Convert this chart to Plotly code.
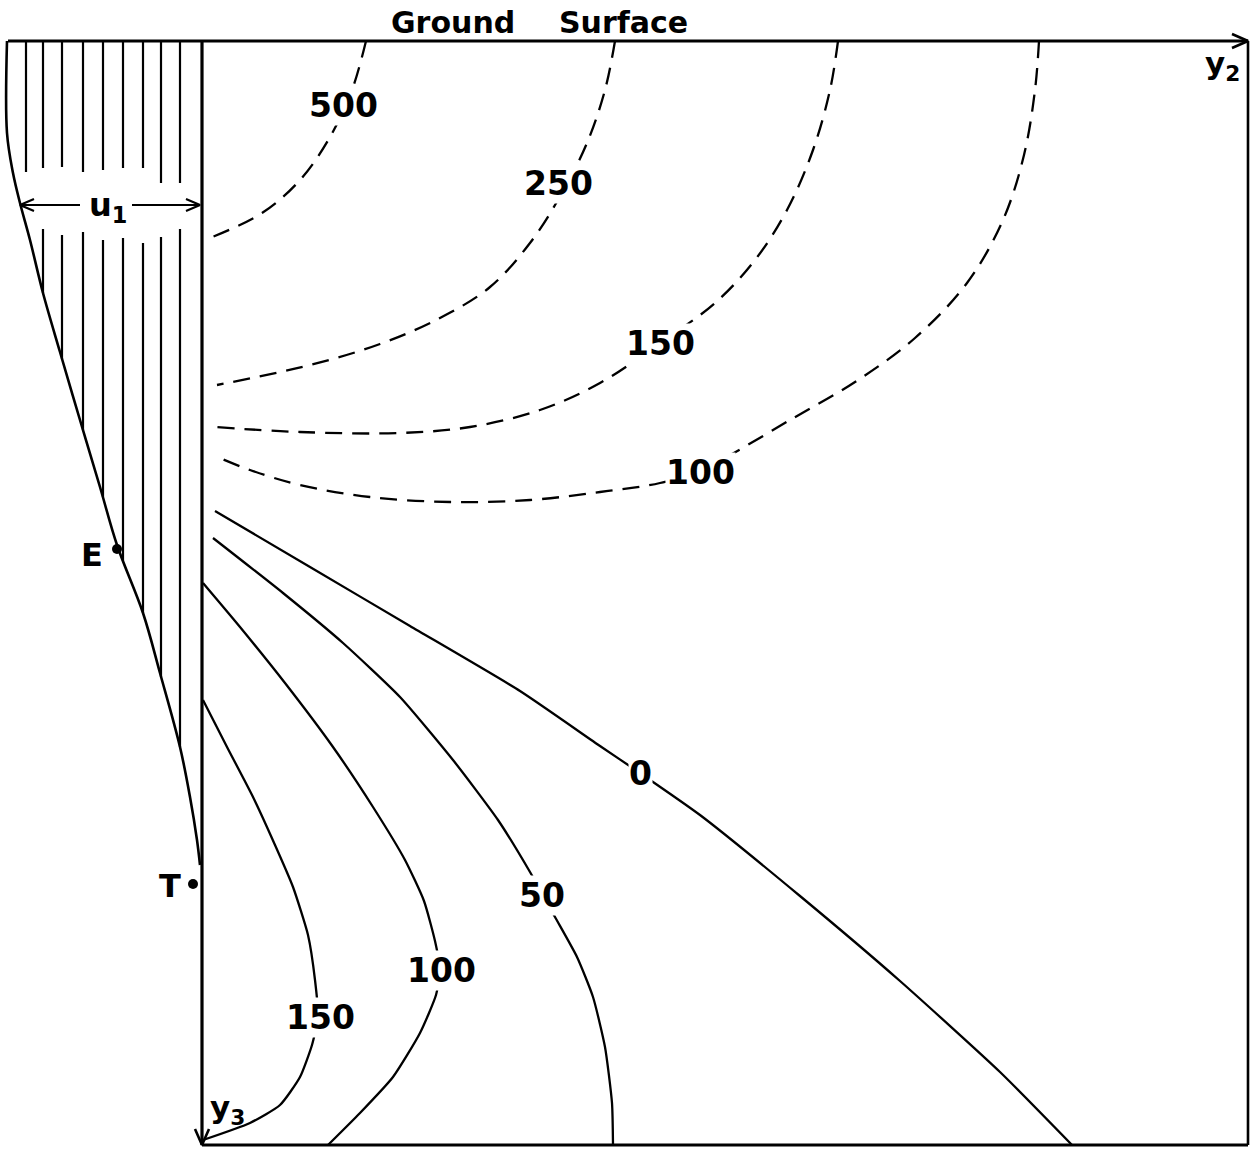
import plotly.graph_objects as go
import numpy as np

# Coordinates: y2 = horizontal distance from the left boundary (positive right),
#              y3 = depth below the ground surface (positive down).
Y2_END = 1046      # right edge of the section
Y3_END = 1104      # bottom edge of the section
Y2_LEFT = -194     # left end of the ground-surface line

# ---- dashed contours (upper region) -------------------------------------
dashed_500 = [(164, 0), (150, 49), (128, 96), (98, 139), (60, 172), (8, 197)]
dashed_250 = [(413, 0), (403, 49), (385, 102), (360, 152), (328, 202), (288, 246),
              (238, 277), (178, 303), (108, 324), (15, 344)]
dashed_150 = [(636, 0), (628, 49), (611, 109), (585, 169), (553, 219), (513, 262),
              (458, 302), (398, 342), (338, 369), (268, 386), (198, 392), (98, 391),
              (13, 386)]
dashed_100 = [(837, 0), (833, 49), (822, 114), (801, 179), (765, 242), (713, 297),
              (653, 341), (588, 379), (528, 414), (498, 429), (458, 442), (398, 451),
              (328, 459), (248, 461), (168, 456), (98, 444), (48, 429), (13, 415)]
dashed_levels = [500, 250, 150, 100]
dashed_curves = [dashed_500, dashed_250, dashed_150, dashed_100]
dashed_label_at = [(141, 64), (356, 142), (458, 302), (498, 431)]

# ---- solid contours (lower region) --------------------------------------
solid_0 = [(13, 470), (108, 526), (208, 585), (318, 650), (398, 705), (438, 732),
           (498, 774), (598, 855), (698, 940), (798, 1031), (870, 1104)]
solid_50 = [(11, 497), (81, 552), (141, 602), (198, 656), (251, 719), (296, 779),
            (328, 831), (353, 876), (375, 916), (391, 956), (403, 1006), (410, 1062),
            (411, 1104)]
solid_100 = [(1, 542), (38, 586), (83, 642), (131, 706), (171, 766), (203, 819),
             (222, 860), (233, 900), (238, 929), (234, 954), (218, 992), (191, 1036),
             (158, 1072), (126, 1104)]
solid_150 = [(1, 659), (25, 706), (51, 756), (73, 804), (91, 846), (106, 894),
             (113, 939), (116, 976), (110, 1004), (98, 1036), (78, 1064), (48, 1082),
             (1, 1099)]
solid_levels = [0, 50, 100, 150]
solid_curves = [solid_0, solid_50, solid_100, solid_150]
solid_label_at = [(438, 732), (340, 854), (239, 929), (118, 976)]

# ---- displacement profile u1 along the left boundary --------------------
profile_y2 = [-195, -195, -189, -182, -172, -159, -142, -122, -102, -85, -59,
              -42, -22, -12, -5, -2]
profile_y3 = [0, 92, 132, 162, 199, 252, 311, 379, 446, 504, 572, 632, 706,
              756, 799, 824]

# hatching inside the profile: position, end of upper part, start of lower part
hatch_y2 = [-176, -159, -140, -119, -99, -79, -59, -41, -22]
hatch_top_end = [131, 127, 126, 131, 129, 127, 127, 142, 142]
hatch_low_start = [188, 188, 194, 191, 199, 197, 202, 196, 188]

u1_depth = 164
u1_span = (-182, -2)
u1_gap = (-122, -70)

point_E = (-85, 508)
point_T = (-9, 843)

FONT = "DejaVu Sans"
INK = "black"

fig = go.Figure()


def add_line(xs, ys, width=2.0, dash=None, shape="linear", smoothing=0.7):
    fig.add_trace(go.Scatter(
        x=xs, y=ys, mode="lines", hoverinfo="skip", showlegend=False,
        line=dict(color=INK, width=width, dash=dash, shape=shape, smoothing=smoothing),
    ))


def arrow_head(tip, direction, length=13, half=6, width=2.2):
    tx, ty = tip
    dx, dy = direction
    n = np.hypot(dx, dy)
    dx, dy = dx / n, dy / n
    bx, by = tx - dx * length, ty - dy * length
    px, py = -dy * half, dx * half
    add_line([bx + px, tx, bx - px], [by + py, ty, by - py], width=width)


# contours
for curve in dashed_curves:
    xs, ys = zip(*curve)
    add_line(list(xs), list(ys), width=2.3, dash="17px,10px", shape="spline", smoothing=1.0)
for curve in solid_curves:
    xs, ys = zip(*curve)
    add_line(list(xs), list(ys), width=2.3, shape="spline", smoothing=0.55)

# hatching of the profile
hx, hy = [], []
order = np.argsort(profile_y2)
for x, top_end, low_start in zip(hatch_y2, hatch_top_end, hatch_low_start):
    hx += [x, x, None]
    hy += [0, top_end, None]
    bottom = float(np.interp(x, np.array(profile_y2)[order], np.array(profile_y3)[order]))
    if bottom > low_start:
        hx += [x, x, None]
        hy += [low_start, bottom, None]
add_line(hx, hy, width=2.2)

# profile curve
add_line(profile_y2, profile_y3, width=2.6, shape="spline", smoothing=1.0)

# u1 dimension arrow
add_line([u1_span[0], u1_gap[0]], [u1_depth, u1_depth], width=2.2)
add_line([u1_gap[1], u1_span[1]], [u1_depth, u1_depth], width=2.2)
arrow_head((u1_span[0], u1_depth), (-1, 0), length=14, half=6, width=2.2)
arrow_head((u1_span[1], u1_depth), (1, 0), length=14, half=6, width=2.2)

# frame and axes
add_line([Y2_LEFT, Y2_END], [0, 0], width=3.2)
add_line([0, 0], [0, Y3_END], width=3.2)
add_line([Y2_END, Y2_END], [0, Y3_END], width=2.6)
add_line([0, Y2_END], [Y3_END, Y3_END], width=2.8)
arrow_head((Y2_END, 0), (1, 0), length=16, half=7, width=2.6)
arrow_head((0, Y3_END), (0, 1), length=16, half=7, width=2.6)

# points E and T
fig.add_trace(go.Scatter(
    x=[point_E[0], point_T[0]], y=[point_E[1], point_T[1]], mode="markers",
    marker=dict(color=INK, size=10), hoverinfo="skip", showlegend=False,
))

annotations = []


def label(x, y, text, size=33, bg=True, xanchor="center"):
    annotations.append(dict(
        x=x, y=y, text="<b>" + text + "</b>", showarrow=False, xref="x", yref="y",
        xanchor=xanchor, yanchor="middle",
        font=dict(family=FONT, size=size, color=INK),
        bgcolor="white" if bg else None, borderpad=0,
    ))


for lvl, (x, y) in zip(dashed_levels, dashed_label_at):
    label(x, y, str(lvl))
for lvl, (x, y) in zip(solid_levels, solid_label_at):
    label(x, y, str(lvl))

label(251, -19, "Ground", size=30, bg=False)
label(421, -19, "Surface", size=30, bg=False)
label(-94, 166, "u<sub>1</sub>", size=32, bg=False)
label(-110, 514, "E", size=32, bg=False)
label(-32, 845, "T", size=32, bg=False)
label(1020, 24, "y<sub>2</sub>", size=31, bg=False)
label(25, 1068, "y<sub>3</sub>", size=31, bg=False)

fig.update_layout(
    width=1257, height=1150, autosize=False,
    margin=dict(l=0, r=0, t=0, b=0, pad=0),
    paper_bgcolor="white", plot_bgcolor="white",
    xaxis=dict(range=[-202, 1055], visible=False, fixedrange=True),
    yaxis=dict(range=[1109, -41], visible=False, fixedrange=True),
    annotations=annotations,
    showlegend=False,
)

fig.write_html("out.html", config={"displayModeBar": False})
